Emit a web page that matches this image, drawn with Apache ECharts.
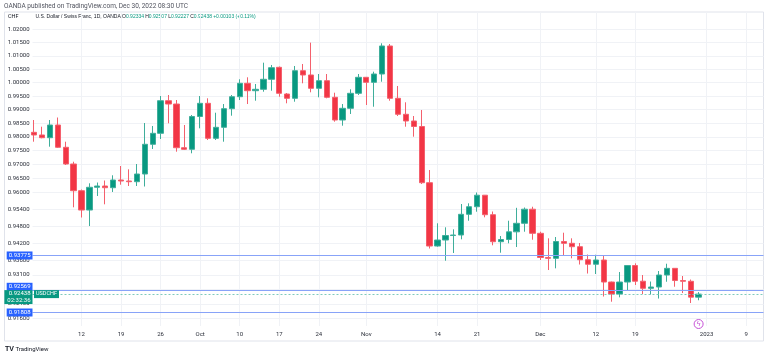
<!DOCTYPE html>
<html><head><meta charset="utf-8">
<script src="https://cdn.jsdelivr.net/npm/echarts@6/dist/echarts.min.js"></script>
<style>html,body{margin:0;padding:0;background:#fff}#c{width:768px;height:356px}</style>
</head><body><div id="c"></div>
<script>
const dates = [
'2022-09-02','2022-09-05','2022-09-06','2022-09-07','2022-09-08','2022-09-09','2022-09-12','2022-09-13','2022-09-14','2022-09-15',
'2022-09-16','2022-09-19','2022-09-20','2022-09-21','2022-09-22','2022-09-23','2022-09-26','2022-09-27','2022-09-28','2022-09-29',
'2022-09-30','2022-10-03','2022-10-04','2022-10-05','2022-10-06','2022-10-07','2022-10-10','2022-10-11','2022-10-12','2022-10-13',
'2022-10-14','2022-10-17','2022-10-18','2022-10-19','2022-10-20','2022-10-21','2022-10-24','2022-10-25','2022-10-26','2022-10-27',
'2022-10-28','2022-10-31','2022-11-01','2022-11-02','2022-11-03','2022-11-04','2022-11-07','2022-11-08','2022-11-09','2022-11-10',
'2022-11-11','2022-11-14','2022-11-15','2022-11-16','2022-11-17','2022-11-18','2022-11-21','2022-11-22','2022-11-23','2022-11-24',
'2022-11-25','2022-11-28','2022-11-29','2022-11-30','2022-12-01','2022-12-02','2022-12-05','2022-12-06','2022-12-07','2022-12-08',
'2022-12-09','2022-12-12','2022-12-13','2022-12-14','2022-12-15','2022-12-16','2022-12-19','2022-12-20','2022-12-21','2022-12-22',
'2022-12-23','2022-12-27','2022-12-28','2022-12-29','2022-12-30'];
const open = [
.98168,.98070,.97971,.98435,.97623,.97018,.96060,.95373,.96182,.96228,
.96167,.96443,.96407,.96382,.96658,.97732,.98132,.99328,.99206,.97608,
.97550,.98747,.99232,.97949,.98351,.99034,.99476,.99973,.99698,.99750,
1.00122,1.00569,.99576,.99417,1.00442,1.00282,.99787,1.00070,.99454,.98618,
.99048,.99602,1.00196,1.00010,1.00319,1.01369,.99417,.98828,.98582,.98380,
.96346,.94105,.94315,.94473,.94491,.95221,.95490,.95900,.95207,.94256,
.94333,.94603,.94903,.95402,.94551,.93704,.93676,.94263,.94200,.94081,
.93627,.93470,.93617,.92854,.92441,.92854,.93425,.92882,.92637,.92682,
.93096,.93328,.92906,.92880,.92334];
const high = [
.98618,.98373,.98618,.98710,.97826,.97101,.96103,.96325,.96353,.96425,
.96612,.96946,.96827,.97018,.98508,.98399,.99502,.99539,.99354,.98435,
.98802,.99502,.99417,.98886,.99206,.99539,1.00122,1.00196,.99947,1.00742,
1.00656,1.00599,.99613,1.00618,1.00693,1.01495,1.00319,1.00319,.99624,.99206,
.99750,1.00319,1.00208,1.00405,1.01471,1.01444,.99873,.99269,.98765,.98986,
.96802,.94903,.94762,.94691,.95586,.95611,.95996,.95907,.95320,.94456,
.94994,.95451,.95462,.95490,.94607,.94375,.94421,.94572,.94375,.94210,
.93808,.93801,.93756,.92870,.93200,.93443,.93502,.93096,.92871,.93235,
.93488,.93339,.93062,.92940,.92507];
const low = [
.97826,.97949,.97645,.97597,.96982,.95469,.95108,.94807,.95871,.95576,
.96014,.96275,.96228,.96228,.96210,.97561,.97924,.98497,.97463,.97524,
.97405,.98314,.97888,.97888,.97826,.98776,.99354,.99206,.99328,.99661,
.99698,.99476,.99232,.99291,.99973,.99639,.99454,.99417,.98556,.98410,
.98839,.99539,.99169,.99106,1.00032,.99328,.98765,.98373,.98008,.96300,
.94018,.94081,.93592,.93861,.94340,.94994,.95313,.95115,.94130,.93871,
.94200,.94070,.94607,.94326,.93617,.93269,.93328,.93791,.93676,.93460,
.93148,.93131,.92355,.92177,.92327,.92561,.92751,.92441,.92423,.92286,
.92864,.92692,.92475,.92132,.92227];
const close = [
.98070,.97971,.98435,.97623,.97018,.96060,.95373,.96182,.96228,.96167,
.96443,.96407,.96382,.96658,.97732,.98132,.99328,.99206,.97608,.97550,
.98747,.99232,.97949,.98351,.99034,.99476,.99973,.99698,.99750,1.00122,
1.00554,.99602,.99417,1.00442,1.00282,.99787,1.00070,.99454,.98618,.99048,
.99602,1.00196,1.00010,1.00319,1.01369,.99417,.98828,.98582,.98380,.96346,
.94105,.94315,.94473,.94491,.95221,.95490,.95900,.95207,.94256,.94333,
.94603,.94903,.95402,.94551,.93704,.93676,.94263,.94200,.94081,.93627,
.93470,.93617,.92854,.92441,.92854,.93425,.92882,.92637,.92682,.93096,
.93328,.92906,.92880,.92334,.92438];
const xTickIdx = [6,11,16,21,26,31,36,42,51,56,64,71,76,85,90];
const xTickLabels = ['12','19','26','Oct','10','17','24','Nov','14','21','Dec','12','19','2023','9'];
const yTicks = [1.02,1.015,1.01,1.005,1.0,0.995,0.99,0.985,0.98,0.975,0.97,0.965,0.96,0.954,0.948,0.942,0.936,0.931,0.926,0.921,0.916];
const levelLines = [0.93775, 0.92569, 0.91808];
const changeText = '+0.00103 (+0.11%)';
const countdown = '02:32:36';

const UP = '#089981', DOWN = '#F23645', BLUE = '#2962FF';
const yMin = 0.913486, yMax = 1.02658;
const xMin = -0.19, xMax = 92.2;
const last = dates.length - 1;
const rows = dates.map((d, i) => [i, open[i], close[i], low[i], high[i]]);
const f5 = v => Number(v).toFixed(5);

const chart = echarts.init(document.getElementById('c'));
const FONT = 'Roboto, "Liberation Sans", sans-serif';
const blueLabel = {show: true, position: 'start', distance: 0, color: '#fff', backgroundColor: BLUE,
  fontSize: 6, fontFamily: FONT, padding: [1, 2, 1, 2], formatter: p => f5(p.value)};

chart.setOption({
  animation: false,
  textStyle: {fontFamily: FONT},
  grid: {left: 32.5, right: 4.5, top: 12, bottom: 30},
  xAxis: {
    type: 'value', min: xMin, max: xMax,
    axisLine: {show: false},
    axisTick: {show: false, customValues: xTickIdx},
    splitLine: {show: true, lineStyle: {color: '#f0f2f6', width: 1}},
    axisLabel: {customValues: xTickIdx, formatter: v => xTickLabels[xTickIdx.indexOf(v)],
      fontSize: 6, color: '#2a2e39', margin: 5}
  },
  yAxis: {
    type: 'log', logBase: 10, min: yMin, max: yMax, position: 'left',
    axisLine: {show: false},
    axisTick: {show: false, customValues: yTicks},
    splitLine: {show: true, lineStyle: {color: '#f0f2f6', width: 1}},
    axisLabel: {customValues: yTicks, formatter: v => f5(v), fontSize: 6, color: '#2a2e39', margin: 3}
  },
  series: [{
    type: 'candlestick',
    data: rows,
    encode: {x: 0, y: [1, 2, 3, 4]},
    barWidth: 5.8,
    itemStyle: {color: UP, color0: DOWN, borderColor: '#3fae9b', borderColor0: '#f4606d', borderWidth: 1},
    markLine: {
      silent: true, symbol: ['none', 'none'], precision: 5,
      lineStyle: {color: '#88a3f8', width: 1, type: 'solid'},
      data: [
        {yAxis: levelLines[0], label: blueLabel},
        {yAxis: levelLines[1], label: Object.assign({}, blueLabel, {offset: [0, -3.5]})},
        {yAxis: levelLines[2], label: blueLabel},
        {yAxis: close[last], lineStyle: {color: '#7fcbbd', type: [2, 2], width: 1},
          label: {show: true, position: 'start', distance: 0, color: '#fff', backgroundColor: UP,
            fontSize: 6, lineHeight: 6.5, fontFamily: FONT, padding: [1, 2, 0, 3], offset: [0, 3],
            formatter: () => f5(close[last]) + '\n' + countdown}}
      ]
    },
    markPoint: {
      silent: true,
      data: [
        {coord: [xMin, close[last]], symbol: 'rect', symbolSize: 0,
          label: {show: true, position: 'right', distance: 1.5, formatter: 'USDCHF', color: '#fff',
            backgroundColor: UP, fontSize: 5.5, padding: [1, 2, 1, 2]}},
        {coord: [84, yMin], symbol: 'circle', symbolSize: 9, symbolOffset: [0, -2],
          itemStyle: {color: '#fff', borderColor: '#c64fd6', borderWidth: 1},
          label: {show: true, position: 'inside', formatter: 'ϟ', color: '#c64fd6', fontSize: 7, offset: [0, 0]}}
      ]
    }
  }],
  graphic: [
    {type: 'rect', silent: true, shape: {x: 4.5, y: 12, width: 759, height: 329},
      style: {fill: 'none', stroke: '#e0e3eb', lineWidth: 1}, z: -1},
    {type: 'text', x: 4, y: 6, silent: true,
      style: {text: 'OANDA published on TradingView.com, Dec 30, 2022 08:30 UTC', fontSize: 6.5, fontFamily: FONT,
        fill: '#50535e', textVerticalAlign: 'middle'}},
    {type: 'text', x: 8, y: 17, silent: true,
      style: {text: 'CHF', fontSize: 5.5, fontFamily: FONT, fill: '#131722', textVerticalAlign: 'middle'}},
    {type: 'text', x: 35.5, y: 17, silent: true,
      style: {
        text: '{n|U.S. Dollar / Swiss Franc, 1D, OANDA} {k|O}{v|' + f5(open[last]) + '} {k|H}{v|' + f5(high[last]) +
          '} {k|L}{v|' + f5(low[last]) + '} {k|C}{v|' + f5(close[last]) + '} {v|' + changeText + '}',
        fontSize: 5, fontFamily: FONT, textVerticalAlign: 'middle',
        rich: {n: {fill: '#131722', fontSize: 5}, k: {fill: '#131722', fontSize: 5}, v: {fill: UP, fontSize: 5}}
      }},
    {type: 'text', x: 5, y: 349, silent: true,
      style: {text: '{l|TV} TradingView', fontSize: 6, fontFamily: FONT, fill: '#131722', textVerticalAlign: 'middle',
        rich: {l: {fontWeight: 'bold', fontSize: 7, fill: '#131722'}}}}
  ]
});
</script></body></html>
